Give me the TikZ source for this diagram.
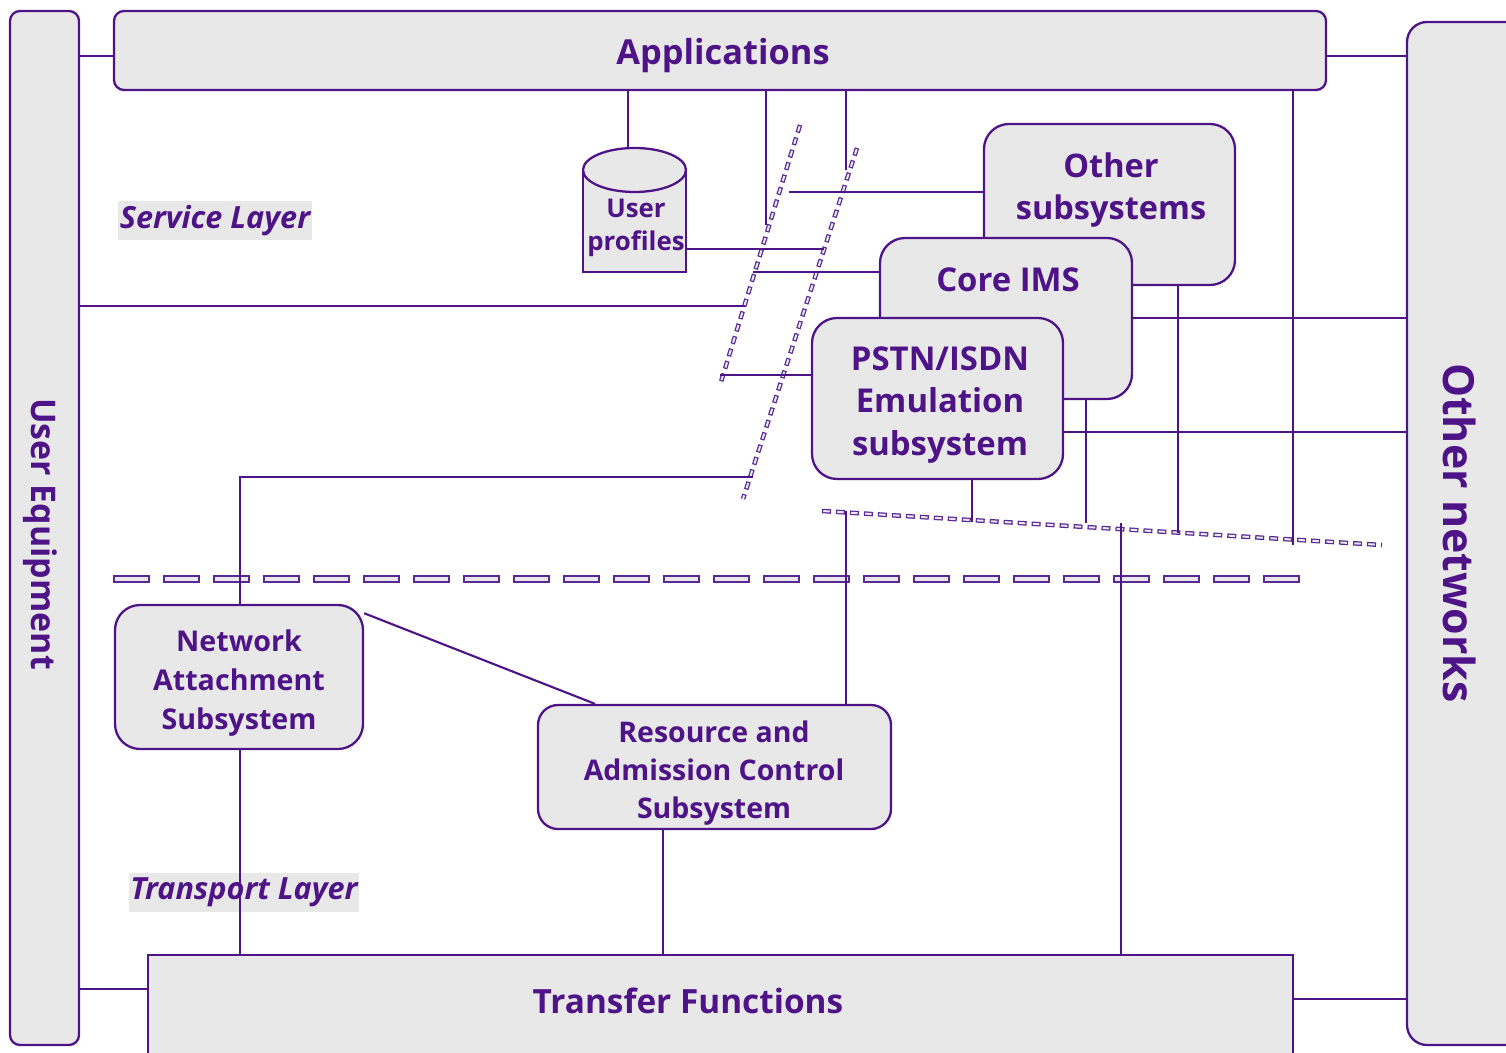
\documentclass[tikz,border=0pt]{standalone}
\usepackage{fontspec}
\setmainfont{Open Sans}
\newlength\pxl
\setlength\pxl{0.02cm}
\definecolor{ink}{RGB}{78,20,135}
\definecolor{boxfill}{RGB}{232,232,232}
\definecolor{dashink}{RGB}{90,40,150}
\tikzset{
  base/.style={draw=ink, fill=boxfill, line width=1.3pt, inner sep=0pt},
  panel/.style={base, rounded corners=10\pxl},
  subsys/.style={base, rounded corners=25\pxl},
  wire/.style={draw=ink, line width=1.2pt},
  lbl/.style={text=ink, align=center, inner sep=0pt},
  layerlbl/.style={text=ink, fill=boxfill, inner xsep=1.5\pxl, inner ysep=0pt,
    minimum height=39\pxl, font=\fontsize{17.4pt}{20pt}\selectfont\bfseries\itshape},
  sepouter/.style={draw=dashink, line width=8\pxl, dash pattern=on 37\pxl off 13\pxl},
  sepinner/.style={draw=boxfill, line width=4.5\pxl, dash pattern=on 33.5\pxl off 16.5\pxl, dash phase=48.25\pxl},
  tickouter/.style={draw=dashink, line width=4.5\pxl, dash pattern=on 8\pxl off 5\pxl},
  tickinner/.style={draw=boxfill, line width=2\pxl, dash pattern=on 5.5\pxl off 7.5\pxl, dash phase=11.75\pxl},
}
\begin{document}
\begin{tikzpicture}[x=0.02cm, y=-0.02cm]
\clip (0,0) rectangle (1506,1053);

% outer frame blocks
\node[panel, minimum width=69\pxl, minimum height=1034\pxl] (ue) at (44.5,528) {};
\node[lbl, rotate=-90, font=\fontsize{19.3pt}{22pt}\selectfont\bfseries] (uetext) at (40,534) {User Equipment};
\node[panel, minimum width=1212\pxl, minimum height=79\pxl] (app) at (720,50.5) {};
\node[lbl, font=\fontsize{19.6pt}{24pt}\selectfont\bfseries] (apptext) at (723,56) {Applications};
\node[base, rounded corners=20\pxl, minimum width=133\pxl, minimum height=1023\pxl] (on) at (1473.5,533.5) {};
\node[lbl, rotate=-90, font=\fontsize{24.4pt}{28pt}\selectfont\bfseries] (ontext) at (1460,533) {Other networks};
\node[base, minimum width=1145\pxl, minimum height=125\pxl] (tf) at (720.5,1017.5) {};
\node[lbl, font=\fontsize{19pt}{23pt}\selectfont\bfseries] (tftext) at (688,1001) {Transfer Functions};

% layer separator
\coordinate (sepA) at (113,579);
\coordinate (sepB) at (1300,579);
\draw[sepouter] (sepA) -- (sepB);
\draw[sepinner] (sepA) -- (sepB);

% layer labels
\node[layerlbl] (svc) at (215,221) {Service Layer};
\node[layerlbl] (trn) at (244,892) {Transport Layer};

% user profiles database
\coordinate (proftop) at (628,148);
\fill[boxfill] (583,170) rectangle (686,272);
\fill[boxfill] (634.5,170) ellipse [x radius=51.5, y radius=22];
\draw[ink, line width=1.3pt] (583,170) -- (583,272) -- (686,272) -- (686,170);
\draw[ink, line width=1.3pt] (634.5,170) ellipse [x radius=51.5, y radius=22];
\node[lbl, fill=boxfill, inner sep=0.5\pxl, font=\fontsize{14.7pt}{18.7pt}\selectfont\bfseries] (prof) at (636,228) {User\\profiles};
\coordinate (profright) at (686,249);

% IMS-side subsystems
\node[subsys, minimum width=251\pxl, minimum height=161\pxl] (oth) at (1109.5,204.5) {};
\node[lbl, font=\fontsize{18.5pt}{24.4pt}\selectfont\bfseries] (othtext) at (1111,190) {Other\\subsystems};
\node[subsys, minimum width=252\pxl, minimum height=161\pxl] (core) at (1006,318.5) {};
\node[lbl, font=\fontsize{18.7pt}{24.4pt}\selectfont\bfseries] (coretext) at (1008,280) {Core IMS};
\node[subsys, minimum width=251\pxl, minimum height=161\pxl] (pstn) at (937.5,398.5) {};
\node[lbl, font=\fontsize{18.7pt}{24.4pt}\selectfont\bfseries] (pstntext) at (940,405) {PSTN/ISDN\\Emulation\\subsystem};

% transport-side subsystems
\node[subsys, minimum width=248\pxl, minimum height=144\pxl] (nas) at (239,677) {};
\node[lbl, font=\fontsize{16.3pt}{22.1pt}\selectfont\bfseries] (nastext) at (239,683) {Network\\Attachment\\Subsystem};
\node[base, rounded corners=20\pxl, minimum width=353\pxl, minimum height=124\pxl] (racs) at (714.5,767) {};
\node[lbl, font=\fontsize{16.2pt}{21.8pt}\selectfont\bfseries] (racstext) at (714,773) {Resource and\\Admission Control\\Subsystem};

% reference-point boundaries
\coordinate (bndA1) at (800,125);
\coordinate (bndA2) at (720,385);
\coordinate (bndB1) at (857,148);
\coordinate (bndB2) at (743,499);
\coordinate (bndC1) at (822,511);
\coordinate (bndC2) at (1382,545);
\foreach \a/\b in {bndA1/bndA2, bndB1/bndB2} {
  \draw[tickouter] (\a) -- (\b);
  \draw[tickinner] (\a) -- (\b);
}
\draw[tickouter, dash pattern=on 9\pxl off 5\pxl] (bndC1) -- (bndC2);
\draw[tickinner, dash pattern=on 6.5\pxl off 7.5\pxl, dash phase=12.75\pxl] (bndC1) -- (bndC2);

% free ends of the interface lines
\coordinate (e1) at (766,225);
\coordinate (e2) at (846,170);
\coordinate (e3) at (789,192);
\coordinate (e4) at (824,249);
\coordinate (e5) at (753,272);
\coordinate (e6) at (745,306);
\coordinate (e7) at (720,375);
\coordinate (e8) at (753,477);
\coordinate (e9) at (1178,533);
\coordinate (e10) at (1086,523);
\coordinate (e11) at (972,522);
\coordinate (e12) at (1293,545);
\coordinate (e13) at (846,511);
\coordinate (e14) at (1121,523);

% connectors
\draw[wire] (ue.east |- 0,56) -- (app.west |- 0,56);
\draw[wire] (app.east |- 0,56) -- (on.west |- 0,56);
\draw[wire] (ue.east |- 0,989) -- (tf.west |- 0,989);
\draw[wire] (tf.east |- 0,999) -- (on.west |- 0,999);
\draw[wire] (app.south -| proftop) -- (proftop);
\draw[wire] (app.south -| e1) -- (e1);
\draw[wire] (app.south -| e2) -- (e2);
\draw[wire] (e3) -- (oth.west |- e3);
\draw[wire] (profright) -- (e4);
\draw[wire] (e5) -- (core.west |- e5);
\draw[wire] (ue.east |- e6) -- (e6);
\draw[wire] (e7) -- (pstn.west |- e7);
\draw[wire] (nas.north -| 240,0) -- (240,477) -- (e8);
\draw[wire] (oth.south -| e9) -- (e9);
\draw[wire] (core.east |- 0,318) -- (on.west |- 0,318);
\draw[wire] (pstn.east |- 0,432) -- (on.west |- 0,432);
\draw[wire] (core.south -| e10) -- (e10);
\draw[wire] (pstn.south -| e11) -- (e11);
\draw[wire] (app.south -| e12) -- (e12);
\draw[wire] (racs.north -| e13) -- (e13);
\draw[wire] (tf.north -| e14) -- (e14);
\draw[wire] (nas.27) -- (racs.north -| 595,0);
\draw[wire] (nas.south -| 240,0) -- (tf.north -| 240,0);
\draw[wire] (racs.south -| 663,0) -- (tf.north -| 663,0);
\end{tikzpicture}
\end{document}
